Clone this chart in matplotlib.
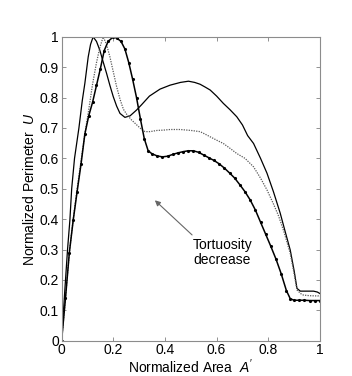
import numpy as np
import matplotlib
matplotlib.use("Agg")
import matplotlib.pyplot as plt

plt.rcParams["font.family"] = ["Liberation Sans", "DejaVu Sans"]
plt.rcParams["mathtext.fontset"] = "custom"
plt.rcParams["mathtext.it"] = "Liberation Sans:italic"
plt.rcParams["mathtext.rm"] = "Liberation Sans"

# solid curve (earliest peak)
x_solid = [0, 0.012, 0.023, 0.032, 0.039, 0.05, 0.067, 0.08, 0.09, 0.103, 0.112, 0.122,
           0.135, 0.148, 0.16, 0.174, 0.187, 0.2, 0.213, 0.226, 0.245, 0.265, 0.29, 0.31,
           0.34, 0.381, 0.42, 0.46, 0.491, 0.515, 0.536, 0.555, 0.575, 0.6, 0.626, 0.652,
           0.678, 0.7, 0.72, 0.743, 0.77, 0.795, 0.82, 0.846, 0.865, 0.885, 0.9, 0.911,
           0.924, 0.95, 0.975, 0.99, 1.0]
y_solid = [0, 0.16, 0.3, 0.396, 0.5, 0.6, 0.70, 0.79, 0.847, 0.934, 0.975, 1.0,
           0.985, 0.956, 0.92, 0.88, 0.84, 0.803, 0.772, 0.748, 0.735, 0.74, 0.759, 0.777,
           0.805, 0.828, 0.841, 0.85, 0.854, 0.85, 0.844, 0.835, 0.825, 0.805, 0.781, 0.76,
           0.737, 0.71, 0.675, 0.649, 0.60, 0.551, 0.49, 0.42, 0.36, 0.298, 0.23, 0.172,
           0.163, 0.163, 0.163, 0.16, 0.155]

# dotted curve (middle peak)
x_dot = [0, 0.015, 0.03, 0.045, 0.06, 0.075, 0.09, 0.105, 0.12, 0.135, 0.148, 0.161, 0.174,
         0.187, 0.2, 0.213, 0.226, 0.239, 0.252, 0.27, 0.291, 0.31, 0.323, 0.342, 0.37,
         0.394, 0.42, 0.459, 0.5, 0.536, 0.555, 0.575, 0.6, 0.626, 0.652, 0.678, 0.71,
         0.743, 0.77, 0.795, 0.82, 0.84, 0.86, 0.885, 0.9, 0.911, 0.925, 0.936, 0.96,
         0.995, 1.0]
y_dot = [0, 0.14, 0.29, 0.4, 0.5, 0.59, 0.68, 0.76, 0.845, 0.915, 0.965, 1.0, 0.975,
         0.934, 0.885, 0.836, 0.795, 0.762, 0.745, 0.727, 0.71, 0.695, 0.688, 0.688, 0.692,
         0.693, 0.695, 0.695, 0.692, 0.688, 0.68, 0.671, 0.66, 0.649, 0.633, 0.616, 0.6,
         0.572, 0.535, 0.496, 0.45, 0.41, 0.36, 0.287, 0.22, 0.167, 0.155, 0.15, 0.148,
         0.147, 0.145]

# thick curve with dots (latest peak)
x_thick = [0, 0.015, 0.03, 0.045, 0.06, 0.075, 0.09, 0.105, 0.12, 0.135, 0.15, 0.165, 0.18,
           0.2, 0.215, 0.23, 0.245, 0.26, 0.275, 0.29, 0.305, 0.32, 0.335, 0.35, 0.37, 0.39,
           0.41, 0.43, 0.45, 0.47, 0.49, 0.51, 0.53, 0.55, 0.57, 0.59, 0.61, 0.63, 0.65,
           0.67, 0.69, 0.71, 0.73, 0.75, 0.77, 0.79, 0.81, 0.83, 0.85, 0.87, 0.885, 0.9,
           0.92, 0.94, 0.96, 0.98, 1.0]
y_thick = [0, 0.14, 0.29, 0.397, 0.49, 0.58, 0.68, 0.74, 0.785, 0.84, 0.895, 0.955, 0.985,
           1.0, 0.995, 0.985, 0.96, 0.915, 0.86, 0.8, 0.73, 0.665, 0.625, 0.615, 0.608, 0.605,
           0.607, 0.613, 0.618, 0.622, 0.625, 0.625, 0.62, 0.611, 0.602, 0.593, 0.582, 0.568,
           0.552, 0.535, 0.513, 0.49, 0.463, 0.43, 0.39, 0.35, 0.31, 0.268, 0.22, 0.165,
           0.138, 0.133, 0.133, 0.133, 0.132, 0.132, 0.132]

x_ticks = [0, 0.2, 0.4, 0.6, 0.8, 1]
y_ticks = [0, 0.1, 0.2, 0.3, 0.4, 0.5, 0.6, 0.7, 0.8, 0.9, 1]

fig = plt.figure(figsize=(3.52, 3.76), dpi=100)
ax = fig.add_axes([0.175, 0.094, 0.734, 0.808])

ax.plot(x_solid, y_solid, color="black", lw=0.9)
ax.plot(x_dot, y_dot, color="0.35", lw=0.9, ls=(0, (1, 1)))
ax.plot(x_thick, y_thick, color="black", lw=1.1, marker=".", ms=2.5)

ax.annotate("", xy=(0.361, 0.462), xytext=(0.505, 0.348),
            arrowprops=dict(arrowstyle="-|>", color="0.4", lw=0.8,
                            mutation_scale=8, shrinkA=0, shrinkB=0))
ax.text(0.622, 0.29, "Tortuosity\ndecrease", ha="center", va="center",
        fontsize=10, linespacing=1.05)

ax.set_xlim(0, 1)
ax.set_ylim(0, 1)
ax.set_xticks(x_ticks)
ax.set_xticklabels(["0", "0.2", "0.4", "0.6", "0.8", "1"])
ax.set_yticks(y_ticks)
ax.set_yticklabels(["0", "0.1", "0.2", "0.3", "0.4", "0.5", "0.6", "0.7", "0.8", "0.9", "1"])
ax.tick_params(direction="in", length=3, width=0.6, color="0.5", labelsize=10,
               top=True, right=True, pad=2)
for s in ax.spines.values():
    s.set_color("0.55")
    s.set_linewidth(0.8)

ax.set_xlabel("Normalized Area  $A'$", fontsize=10, labelpad=0)
ax.set_ylabel("Normalized Perimeter  $U$", fontsize=10, labelpad=2)

fig.savefig("out.png", dpi=100)
